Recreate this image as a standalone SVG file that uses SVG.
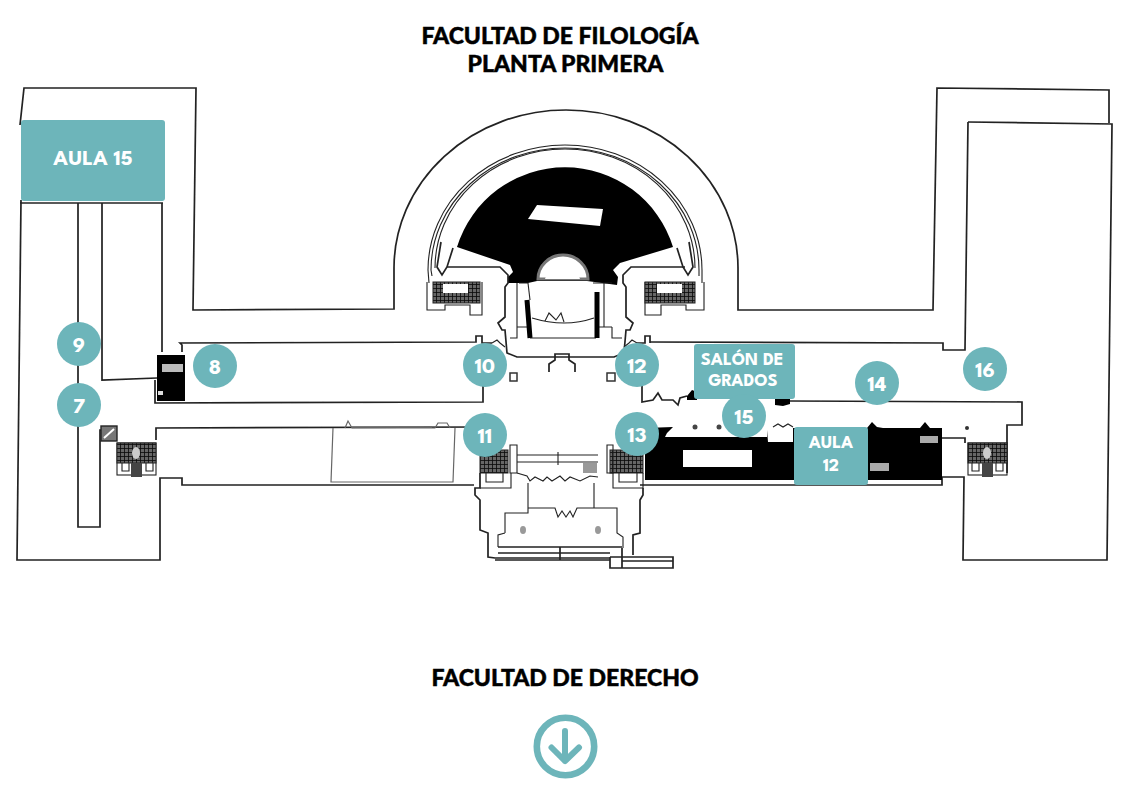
<svg xmlns="http://www.w3.org/2000/svg" width="1123" height="794" viewBox="0 0 1123 794">
<defs>
<style>
.w{fill:none;stroke:#222;stroke-width:1.7;stroke-linejoin:miter}
.t{fill:none;stroke:#222;stroke-width:1.1}
.g{fill:none;stroke:#666;stroke-width:1.2}
.k{fill:#000;stroke:none}
.e{fill:#fff;stroke:none}
.h{fill:url(#stairs);stroke:#222;stroke-width:1}
.tag{fill:#6db5ba}
.lab{fill:#fff;font-family:"League Spartan","Lato","Liberation Sans",sans-serif;font-weight:700;text-anchor:middle}
.num{font-size:22px}
.title{fill:#000;stroke:#000;stroke-width:.45;font-family:"Lato","Liberation Sans",sans-serif;font-weight:900;font-size:23px;text-anchor:middle}
</style>
<pattern id="stairs" width="4" height="4" patternUnits="userSpaceOnUse"><rect width="4" height="4" fill="#666"/><path d="M0 0H4M0 0V4" stroke="#000" stroke-width="1.4"/></pattern>
<filter id="soft" x="-2%" y="-2%" width="104%" height="104%"><feGaussianBlur stdDeviation="0.4"/></filter>
</defs>
<rect width="1123" height="794" fill="#fff"/>
<g id="plan" filter="url(#soft)">
<path class="w" d="M20 125L24 88L196 88L193 310L394 309L394 268A172 158 0 0 1 738 268L738 310L933 310L937 88L1109 90L1109 123"/>
<path class="w" d="M968 122L1112 124L1107 560L963 560L964 477L942 477L942 485L640 485"/>
<path class="w" d="M21 200L17 560L160 560L160 478L182 478L182 485L474 485"/>
<path class="w" d="M20 203L163 203"/>
<path class="w" d="M78 203V527H100V430H117"/>
<path class="w" d="M102 203V380L157 378"/>
<path class="w" d="M162 203V352"/>
<path class="w" d="M182 352V345L180 343L476 342V336H482V343H492"/>
<path class="t" d="M492 343L497 340L500 343L505 347"/>
<path class="w" d="M650 343V336H645V343H637"/>
<path class="t" d="M637 343L632 340L629 343L624 347"/>
<path class="w" d="M155 380V403L483 402V380"/>
<path class="w" d="M156 440V428L480 427"/>
<path class="w" d="M642 380V402L653 400L658 393L662 400L673 400L678 405L680 398L687 396M790 401L1022 402V425H1007V473"/>
<path class="w" d="M650 342L943 343V350L965 350L968 122"/>
<path class="w" d="M942 438H965V443"/>
<path class="g" d="M333 428L331 482L453 482L455 428M345 428L348 421L352 428L435 428L438 423L447 423L450 428M352 427L432 427"/>
<rect x="101" y="426" width="16" height="15" fill="#777" stroke="#222" stroke-width="1.4"/>
<path d="M104 438L114 429" stroke="#fff" stroke-width="2"/>
<rect class="t" x="117" y="443" width="39" height="32"/>
<rect class="h" x="117" y="443" width="39" height="20"/>
<path class="t" d="M122 463V471H129V463M146 463V471H153V463"/>
<rect x="131" y="463" width="11" height="14" fill="#444"/>
<ellipse cx="136" cy="453" rx="4" ry="6" fill="#ccc"/>
<rect class="k" x="157" y="355" width="28" height="46"/>
<rect x="162" y="364" width="21" height="8" fill="#bbb"/><rect x="158" y="391" width="5" height="4" fill="#ddd"/>
<path class="t" d="M429 283L428 270A137 125 0 0 1 702 270L702 283"/>
<path class="t" d="M432 276L431 270A134 122 0 0 1 699 270L699 276"/>
<path class="t" d="M435 268A130 119 0 0 1 695 268"/>
<path class="k" d="M457 247A113 113 0 0 1 673 247L620 263L613 270L618 277L617 285L587 281L537 281L528 283L508 283L508 277L513 272L510 265Z"/>
<path class="e" d="M537 205L603 209L600 226L528 219Z"/>
<path fill="#fff" stroke="#777" stroke-width="3" d="M538 279A25 24 0 0 1 588 279Z"/>
<path class="e" d="M545 279A18 17 0 0 1 580 279Z"/>
<path class="w" d="M441 242L437 267L442 275L447 267L453 248M447 267H500L508 275V283L505 287V317L498 323L502 330L505 330L507 353L517 357H614L624 353L626 330L630 330L633 323L626 317V287L623 283V275L631 267H685"/>
<path class="w" d="M689 242L693 267L688 275L683 267L677 248"/>
<path class="t" d="M427 282V310H445V305H470V315H482V282"/>
<path class="t" d="M704 282V310H686V305H661V315H645V282"/>
<rect class="h" x="433" y="282" width="47" height="21"/><rect class="e" x="443" y="284" width="25" height="9"/>
<rect class="h" x="645" y="282" width="50" height="21"/><rect class="e" x="657" y="284" width="25" height="9"/>
<path class="t" d="M517 283V327M519 283H528M528 283L530 300M604 283V327M593 283L612 283M530 338H596M517 327H530M596 327H612M517 327V338H510M612 327V338H622"/>
<path class="t" d="M532 318Q565 328 594 318M545 321L549 313L556 320L561 313L564 322"/>
<path d="M527 300L530 338M597 292L597 338" stroke="#000" stroke-width="5" fill="none"/>
<path class="w" d="M549 372V364L555 360V354H569V360L575 364V372"/>
<rect x="510" y="373" width="7" height="8" fill="#fff" stroke="#333" stroke-width="1.5"/>
<rect x="607" y="373" width="8" height="8" fill="#fff" stroke="#333" stroke-width="1.5"/>
<rect class="h" x="480" y="450" width="28" height="23"/>
<rect class="h" x="610" y="450" width="33" height="23"/>
<path class="w" d="M480 473V488L475 488V495L480 500V530L488 533V557L495 558L610 558"/>
<path class="t" d="M486 473V482H503V473M480 488H511V473M613 473V488H643V473M619 473V482H637V473"/>
<path class="w" d="M643 488V495L640 500V533L633 535V555"/>
<path class="t" d="M510 445H517V473H510ZM607 445H613V473H607ZM517 455H598M517 462H598M558 452V465"/>
<path class="t" d="M517 473L527 476L530 481L535 477L543 481L547 477L552 481L560 476L565 481L570 477L580 481L590 476L598 477"/>
<path class="t" d="M528 483V508M594 483V508M505 533V513H528V508H555L558 517L562 511L566 517L570 511L573 517L577 508H594V508H617V533L623 537V548M505 533L498 535V547"/>
<path class="w" d="M498 547H622M498 553H610M495 560H610M560 547V560"/>
<rect x="583" y="463" width="14" height="10" fill="#999"/>
<ellipse cx="523" cy="530" rx="3" ry="4" fill="#999"/><ellipse cx="598" cy="530" rx="3" ry="4" fill="#999"/>
<path class="w" d="M610 557H622V548M610 557V568H673V557H622M622 561H673M622 568V557"/>
<path class="k" d="M645 428L673 427L667 433L665 437L767 437L767 430L768 442L793 442L793 428L867 428L872 422L877 427L883 428L920 428L925 422L930 428L942 428V480H645Z"/>
<rect class="e" x="683" y="450" width="69" height="17"/>
<rect x="870" y="463" width="19" height="8" fill="#aaa"/><rect x="920" y="436" width="18" height="7" fill="#aaa"/>
<circle cx="695" cy="427" r="2.5" fill="#444"/><circle cx="719" cy="427" r="2.5" fill="#444"/><circle cx="967" cy="428" r="2" fill="#333"/>
<path class="t" d="M773 427L778 424L783 427L788 424L793 427"/>
<path class="k" d="M687 396L692 390L697 392V400H687ZM775 398H790V404L783 406L775 405Z"/>
<rect class="t" x="968" y="443" width="39" height="32"/>
<rect class="h" x="968" y="443" width="39" height="20"/>
<path class="t" d="M972 463V471H979V463M996 463V471H1003V463"/>
<rect x="982" y="463" width="11" height="14" fill="#444"/>
<ellipse cx="987" cy="453" rx="4" ry="6" fill="#ccc"/>
</g>
<g id="aula-15"><rect class="tag" x="21" y="120" width="144" height="81" rx="3"/><text class="lab" x="93" y="165" font-size="22">AULA 15</text></g>
<g id="salon-de-grados"><rect class="tag" x="694" y="344" width="101" height="55" rx="3"/><text class="lab" x="742" y="365" font-size="18">SALÓN DE</text><text class="lab" x="743" y="386" font-size="18">GRADOS</text></g>
<g id="aula-12"><rect class="tag" x="794" y="427" width="74" height="58" rx="3"/><text class="lab" x="831" y="448" font-size="18">AULA</text><text class="lab" x="831" y="471" font-size="18">12</text></g>
<g id="n9"><circle class="tag" cx="79" cy="344" r="22"/><text class="lab num" x="79" y="352">9</text></g>
<g id="n7"><circle class="tag" cx="79" cy="405" r="22"/><text class="lab num" x="79" y="413">7</text></g>
<g id="n8"><circle class="tag" cx="215" cy="366" r="22"/><text class="lab num" x="215" y="374">8</text></g>
<g id="n10"><circle class="tag" cx="485" cy="365" r="22"/><text class="lab num" x="485" y="373">10</text></g>
<g id="n11"><circle class="tag" cx="485" cy="435" r="22"/><text class="lab num" x="485" y="443">11</text></g>
<g id="n12"><circle class="tag" cx="637" cy="365" r="22"/><text class="lab num" x="637" y="373">12</text></g>
<g id="n13"><circle class="tag" cx="637" cy="434" r="22"/><text class="lab num" x="637" y="442">13</text></g>
<g id="n14"><circle class="tag" cx="877" cy="383" r="22"/><text class="lab num" x="877" y="391">14</text></g>
<g id="n15"><circle class="tag" cx="744" cy="416" r="22"/><text class="lab num" x="744" y="424">15</text></g>
<g id="n16"><circle class="tag" cx="985" cy="369" r="22"/><text class="lab num" x="985" y="377">16</text></g>
<g id="titles">
<text class="title" x="560" y="44">FACULTAD DE FILOLOGÍA</text>
<text class="title" x="565.5" y="72">PLANTA PRIMERA</text>
<text class="title" x="565" y="686">FACULTAD DE DERECHO</text>
</g>
<g id="arrow" fill="none" stroke="#6db5ba" stroke-linecap="round" stroke-linejoin="round">
<circle cx="565.5" cy="746.5" r="28.7" stroke-width="6.6"/>
<path d="M565 731V761M551.5 747.5L565 761L579 747.5" stroke-width="6"/>
</g>
</svg>
